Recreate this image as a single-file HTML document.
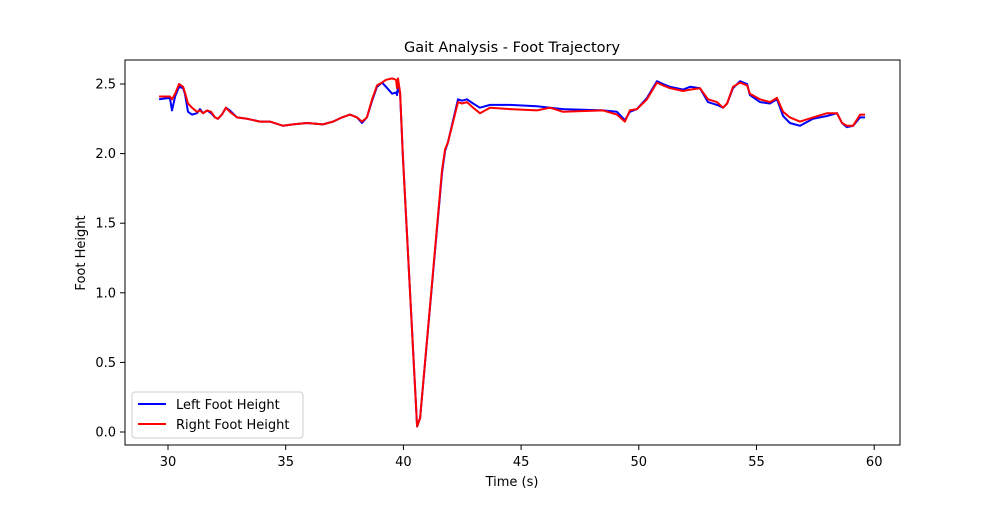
<!DOCTYPE html>
<html><head><meta charset="utf-8"><style>
body{margin:0;background:#fff;font-family:"Liberation Sans","DejaVu Sans",sans-serif}
</style></head><body>
<svg id="chart" width="1000" height="500" xmlns="http://www.w3.org/2000/svg" font-family="DejaVu Sans, Liberation Sans, sans-serif">
<rect width="1000" height="500" fill="#fff"/>
<text x="512" y="52" text-anchor="middle" font-size="14.5">Gait Analysis - Foot Trajectory</text>
<text x="512" y="486" text-anchor="middle" font-size="13">Time (s)</text>
<text x="85" y="253" text-anchor="middle" font-size="13" transform="rotate(-90 85 253)">Foot Height</text>
<g id="xt"></g>
<g id="yt"></g>
<g id="series"></g>
<rect x="125" y="60" width="775" height="385" fill="none" stroke="#000" stroke-width="1"/>
<g>
<rect x="132" y="392" width="171" height="46" rx="3" fill="#fff" fill-opacity="0.8" stroke="#ccc"/>
<line x1="138" y1="404" x2="166" y2="404" stroke="#0000ff" stroke-width="2"/>
<text x="176" y="409" font-size="13">Left Foot Height</text>
<line x1="138" y1="424" x2="166" y2="424" stroke="#ff0000" stroke-width="2"/>
<text x="176" y="429" font-size="13">Right Foot Height</text>
</g>
</svg>
<script>
const times=[29.62,30.08,30.17,30.30,30.47,30.64,30.72,30.85,31.02,31.23,31.36,31.49,31.66,31.83,32.00,32.12,32.29,32.46,32.63,32.93,33.36,33.91,34.33,34.89,35.31,35.90,36.58,37.01,37.39,37.73,38.03,38.24,38.45,38.67,38.88,39.09,39.26,39.52,39.69,39.73,39.77,39.86,39.98,40.58,40.71,41.64,41.77,41.89,42.32,42.49,42.70,42.96,43.25,43.68,44.53,45.68,46.23,46.78,48.48,49.07,49.41,49.62,49.92,50.35,50.77,51.03,51.33,51.62,51.88,52.18,52.60,52.94,53.32,53.58,53.75,54.00,54.30,54.60,54.72,55.15,55.57,55.87,56.13,56.42,56.85,57.40,57.99,58.42,58.63,58.84,59.10,59.40,59.61];
const rightFoot=[2.41,2.41,2.39,2.43,2.50,2.48,2.44,2.36,2.33,2.30,2.31,2.29,2.31,2.30,2.26,2.25,2.28,2.33,2.30,2.26,2.25,2.23,2.23,2.20,2.21,2.22,2.21,2.23,2.26,2.28,2.26,2.23,2.26,2.39,2.49,2.51,2.53,2.54,2.53,2.47,2.54,2.44,1.98,0.04,0.10,1.88,2.03,2.08,2.37,2.36,2.37,2.33,2.29,2.33,2.32,2.31,2.33,2.30,2.31,2.28,2.23,2.31,2.32,2.39,2.51,2.49,2.47,2.46,2.45,2.46,2.47,2.39,2.37,2.33,2.36,2.48,2.51,2.49,2.43,2.39,2.37,2.40,2.30,2.26,2.23,2.26,2.29,2.29,2.22,2.20,2.20,2.28,2.28];
const leftFoot=[2.39,2.40,2.31,2.41,2.48,2.47,2.43,2.30,2.28,2.29,2.32,2.29,2.31,2.29,2.26,2.25,2.28,2.33,2.31,2.26,2.25,2.23,2.23,2.20,2.21,2.22,2.21,2.23,2.26,2.28,2.26,2.22,2.26,2.38,2.48,2.51,2.48,2.43,2.44,2.42,2.48,2.43,1.98,0.04,0.10,1.86,2.02,2.08,2.39,2.38,2.39,2.36,2.33,2.35,2.35,2.34,2.33,2.32,2.31,2.30,2.24,2.30,2.32,2.40,2.52,2.50,2.48,2.47,2.46,2.48,2.47,2.37,2.35,2.33,2.36,2.47,2.52,2.50,2.42,2.37,2.36,2.39,2.27,2.22,2.20,2.25,2.27,2.29,2.22,2.19,2.20,2.26,2.26];
const xTicks=[30,35,40,45,50,55,60];
const yTicks=[0.0,0.5,1.0,1.5,2.0,2.5];
const NS="http://www.w3.org/2000/svg";
function xs(t){return 168+(t-30)*23.54;}
function ys(v){return 432-v*139.2;}
const xt=document.getElementById('xt'), yt=document.getElementById('yt'), sg=document.getElementById('series');
xTicks.forEach(t=>{
 const l=document.createElementNS(NS,'line');
 l.setAttribute('x1',xs(t));l.setAttribute('x2',xs(t));l.setAttribute('y1',445);l.setAttribute('y2',450);l.setAttribute('stroke','#000');
 
 
 xt.appendChild(l);
 const tx=document.createElementNS(NS,'text');
 tx.setAttribute('x',xs(t));tx.setAttribute('y',466);tx.setAttribute('text-anchor','middle');tx.setAttribute('font-size','13');
 tx.textContent=String(t);
 
 
 xt.appendChild(tx);
});
yTicks.forEach(v=>{
 const l=document.createElementNS(NS,'line');
 l.setAttribute('x1',120);l.setAttribute('x2',125);l.setAttribute('y1',ys(v));l.setAttribute('y2',ys(v));l.setAttribute('stroke','#000');
 
 
 yt.appendChild(l);
 const tx=document.createElementNS(NS,'text');
 tx.setAttribute('x',116);tx.setAttribute('y',ys(v)+4.5);tx.setAttribute('text-anchor','end');tx.setAttribute('font-size','13');
 tx.textContent=v.toFixed(1);
 
 
 yt.appendChild(tx);
});
function line(vals,color,name){
 const p=document.createElementNS(NS,'polyline');
 p.setAttribute('points',times.map((t,i)=>xs(t).toFixed(1)+','+ys(vals[i]).toFixed(1)).join(' '));
 p.setAttribute('fill','none');p.setAttribute('stroke',color);p.setAttribute('stroke-width','2');p.setAttribute('stroke-linejoin','round');
 
 
 sg.appendChild(p);
}
line(leftFoot,'#0000ff','left-foot-line');
line(rightFoot,'#ff0000','right-foot-line');
</script>
</body></html>
